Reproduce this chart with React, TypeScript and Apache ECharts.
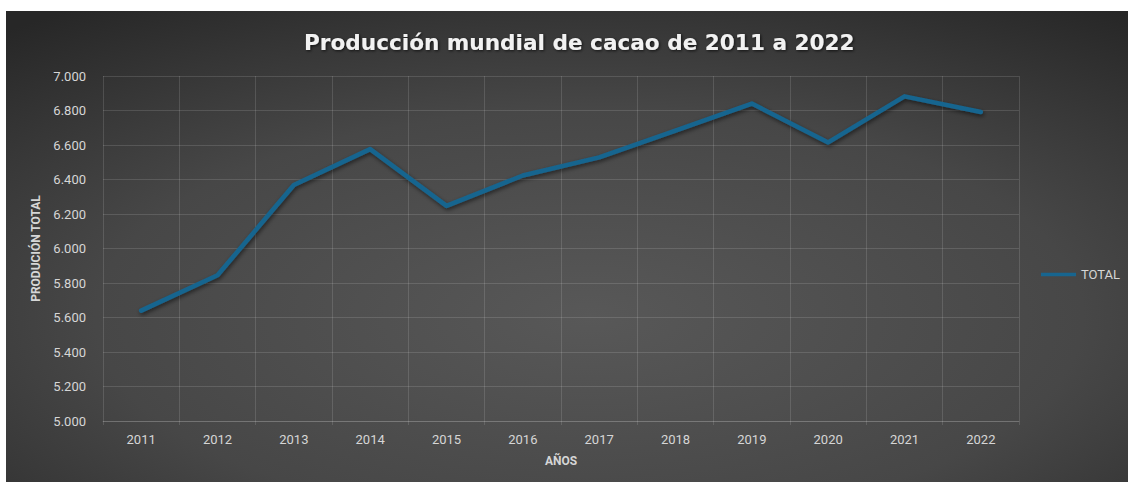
import React, { useEffect, useRef } from "react";
import * as echarts from "echarts";

const years = ["2011", "2012", "2013", "2014", "2015", "2016", "2017", "2018", "2019", "2020", "2021", "2022"];
const totalProduction = [5640, 5845, 6368, 6576, 6247, 6423, 6528, 6684, 6840, 6615, 6882, 6791];
const yMin = 5000;
const yMax = 7000;
const yStep = 200;

const fmt = (v: number) => {
  const s = Math.round(v).toString();
  return s.replace(/\B(?=(\d{3})+(?!\d))/g, ".");
};

export default function App() {
  const ref = useRef<HTMLDivElement>(null);
  useEffect(() => {
    if (!ref.current) return;
    const chart = echarts.init(ref.current, null, { renderer: "svg" });
    const gridColor = "rgba(255,255,255,0.13)";
    const labelColor = "#d6d6d6";
    chart.setOption({
      animation: false,
      backgroundColor: {
        type: "radial",
        x: 0.52,
        y: 0.65,
        r: 0.8,
        colorStops: [
          { offset: 0, color: "#585858" },
          { offset: 0.55, color: "#474747" },
          { offset: 1, color: "#272727" },
        ],
      },
      title: {
        text: "Producción mundial de cacao de 2011 a 2022",
        left: 293,
        top: 15,
        textStyle: {
          color: "#f2f2f2",
          fontFamily: "DejaVu Sans",
          fontWeight: "bold",
          fontSize: 21.6,
          textShadowColor: "rgba(0,0,0,0.7)",
          textShadowBlur: 3,
          textShadowOffsetX: 1,
          textShadowOffsetY: 1,
        },
      },
      legend: {
        data: ["TOTAL"],
        orient: "vertical",
        left: 1030,
        top: 252,
        itemWidth: 35,
        itemHeight: 14,
        itemGap: 5,
        icon: "path://M0,0 L10,0 L10,1 L0,1 Z",
        textStyle: { color: labelColor, fontFamily: "Roboto", fontSize: 13 },
      },
      grid: { left: 97, right: 109, top: 65, bottom: 61, containLabel: false },
      xAxis: {
        type: "category",
        data: years,
        boundaryGap: true,
        name: "AÑOS",
        nameLocation: "middle",
        nameGap: 34,
        nameTextStyle: { color: labelColor, fontFamily: "Roboto", fontWeight: "bold", fontSize: 12 },
        axisLine: { show: true, lineStyle: { color: gridColor } },
        axisTick: { show: true, length: 4, alignWithLabel: false, lineStyle: { color: gridColor } },
        axisLabel: { color: labelColor, fontFamily: "Roboto", fontSize: 13, margin: 12 },
        splitLine: { show: true, lineStyle: { color: gridColor } },
      },
      yAxis: {
        type: "value",
        min: yMin,
        max: yMax,
        interval: yStep,
        name: "PRODUCIÓN TOTAL",
        nameLocation: "middle",
        nameGap: 60,
        nameRotate: 90,
        nameTextStyle: { color: labelColor, fontFamily: "Roboto", fontWeight: "bold", fontSize: 12 },
        axisLine: { show: false },
        axisTick: { show: false },
        axisLabel: { color: labelColor, fontFamily: "Roboto", fontSize: 13, margin: 17, formatter: (v: number) => fmt(v) },
        splitLine: { show: true, lineStyle: { color: gridColor } },
      },
      series: [
        {
          name: "TOTAL",
          type: "line",
          data: totalProduction,
          symbol: "none",
          itemStyle: { color: "#17658f" },
          lineStyle: {
            color: "#17658f",
            width: 4.5,
            cap: "round",
            join: "round",
            shadowColor: "rgba(0,0,0,0.55)",
            shadowBlur: 4,
            shadowOffsetX: 1,
            shadowOffsetY: 2,
          },
        },
      ],
    });
    return () => chart.dispose();
  }, []);
  return (
    <div style={{ position: "absolute", left: 6, top: 11, width: 1122, height: 471 }}>
      <div ref={ref} style={{ width: 1122, height: 471 }} />
    </div>
  );
}
